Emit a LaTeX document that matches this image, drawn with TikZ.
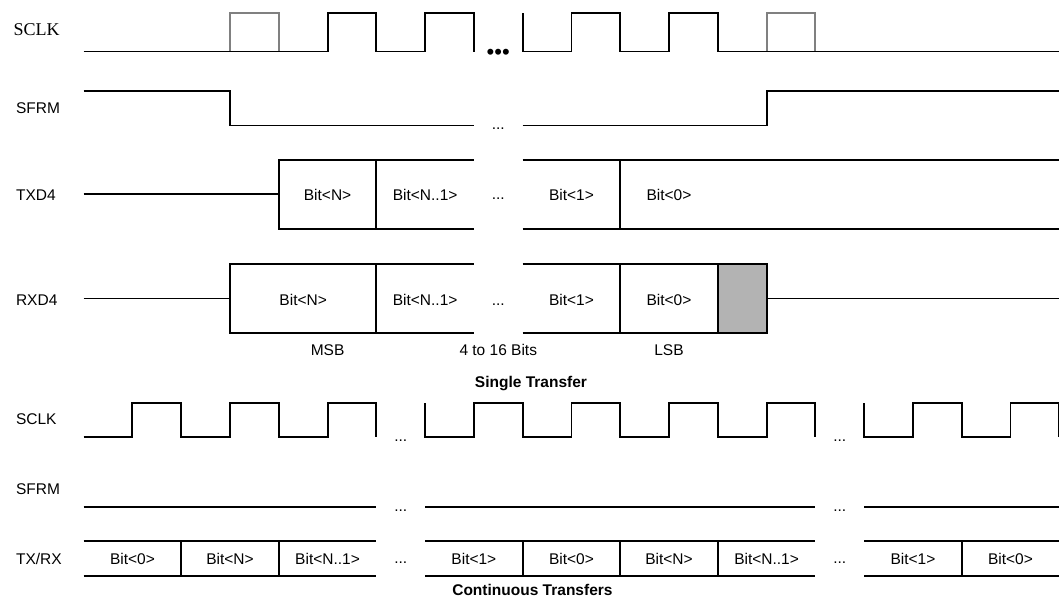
\documentclass[tikz,border=0pt]{standalone}
\usepackage{fontspec}
\setmainfont{Liberation Sans}
\newfontfamily\serifface{Liberation Serif}
\definecolor{PulseGray}{RGB}{128,128,128}
\definecolor{HoldGray}{RGB}{179,179,179}
\tikzset{
  wave/.style={line width=1.9pt,draw=black},
  ghostwave/.style={line width=1.9pt,draw=PulseGray},
  holdcell/.style={line width=1.9pt,draw=black,fill=HoldGray},
  siglabel/.style={anchor=base west,inner sep=0pt,font=\fontsize{15.5}{18}\selectfont},
  bitlabel/.style={anchor=base,inner sep=0pt,font=\fontsize{15.5}{18}\selectfont},
  titlelabel/.style={anchor=base,inner sep=0pt,font=\fontsize{15.5}{18}\selectfont\bfseries}
}

\begin{document}
\begin{tikzpicture}[x=48.78pt,y=-1pt]
  \useasboundingbox (-4.715,0) rectangle (16.995,598);
  % single transfer: signal names
  \node[siglabel,font=\fontsize{18}{20}\serifface] (sclkA) at (-4.44,35) {SCLK};
  \node[siglabel] (sfrmA) at (-4.39,113) {SFRM};
  \node[siglabel] (txdA) at (-4.39,200) {TXD4};
  \node[siglabel] (rxdA) at (-4.39,305) {RXD4};
  % SCLK
  \draw[ghostwave] (0,51.5) -- (0,13) -- (1,13) -- (1,51.5);
  \draw[ghostwave] (11,51.5) -- (11,13) -- (12,13) -- (12,51.5);
  \draw[wave] (-3,51.5) -- (2,51.5) -- (2,13) -- (3,13) -- (3,51.5) -- (4,51.5)
    -- (4,13) -- (5,13) -- (5,51.5);
  \draw[wave] (6,13) -- (6,51.5) -- (7,51.5) -- (7,13) -- (8,13) -- (8,51.5)
    -- (9,51.5) -- (9,13) -- (10,13) -- (10,51.5) -- (17,51.5);
  \node[inner sep=0pt,font=\fontsize{22}{24}\selectfont] (sclkGap) at (5.5,54) {•••};
  % SFRM
  \draw[wave] (-3,90.7) -- (0,90.7) -- (0,125.5) -- (5,125.5);
  \draw[wave] (6,125.5) -- (11,125.5) -- (11,90.7) -- (17,90.7);
  \node[bitlabel] (sfrmGap) at (5.5,129) {...};
  % TXD4
  \draw[wave] (-3,194) -- (1,194);
  \draw[wave] (5,160) -- (1,160) -- (1,229) -- (5,229);
  \draw[wave] (3,160) -- (3,229);
  \draw[wave] (6,160) -- (17,160);
  \draw[wave] (6,229) -- (17,229);
  \draw[wave] (8,160) -- (8,229);
  \node[bitlabel] (txN) at (2,200) {Bit<N>};
  \node[bitlabel] (txNm) at (4,200) {Bit<N..1>};
  \node[bitlabel] (txGap) at (5.5,199) {...};
  \node[bitlabel] (txOne) at (7,200) {Bit<1>};
  \node[bitlabel] (txZero) at (9,200) {Bit<0>};
  % RXD4
  \draw[wave] (-3,298.5) -- (0,298.5);
  \draw[wave] (5,264) -- (0,264) -- (0,333) -- (5,333);
  \draw[wave] (3,264) -- (3,333);
  \draw[holdcell] (10,264) rectangle (11,333);
  \draw[wave] (6,264) -- (11,264);
  \draw[wave] (6,333) -- (11,333);
  \draw[wave] (8,264) -- (8,333);
  \draw[wave] (11,298.5) -- (17,298.5);
  \node[bitlabel] (rxN) at (1.5,305) {Bit<N>};
  \node[bitlabel] (rxNm) at (4,305) {Bit<N..1>};
  \node[bitlabel] (rxGap) at (5.5,305) {...};
  \node[bitlabel] (rxOne) at (7,305) {Bit<1>};
  \node[bitlabel] (rxZero) at (9,305) {Bit<0>};
  \node[bitlabel] (msb) at (2,355) {MSB};
  \node[bitlabel] (width) at (5.5,355) {4 to 16 Bits};
  \node[bitlabel] (lsb) at (9,355) {LSB};
  \node[titlelabel] (single) at (6.17,387) {Single Transfer};

  % continuous transfers: signal names
  \node[siglabel] (sclkB) at (-4.39,424.3) {SCLK};
  \node[siglabel] (sfrmB) at (-4.39,494) {SFRM};
  \node[siglabel] (txrxB) at (-4.39,564) {TX/RX};
  % SCLK
  \draw[wave] (-3,437) -- (-2,437) -- (-2,403) -- (-1,403) -- (-1,437) -- (0,437)
    -- (0,403) -- (1,403) -- (1,437) -- (2,437) -- (2,403) -- (3,403) -- (3,437);
  \draw[wave] (4,403) -- (4,437) -- (5,437) -- (5,403) -- (6,403) -- (6,437)
    -- (7,437) -- (7,403) -- (8,403) -- (8,437) -- (9,437) -- (9,403) -- (10,403)
    -- (10,437) -- (11,437) -- (11,403) -- (12,403) -- (12,437);
  \draw[wave] (13,403) -- (13,437) -- (14,437) -- (14,403) -- (15,403) -- (15,437)
    -- (16,437) -- (16,403) -- (17,403) -- (17,437);
  \node[bitlabel] (clkGapA) at (3.5,441) {...};
  \node[bitlabel] (clkGapB) at (12.5,441) {...};
  % SFRM
  \draw[wave] (-3,507) -- (3,507);
  \draw[wave] (4,507) -- (12,507);
  \draw[wave] (13,507) -- (17,507);
  \node[bitlabel] (frmGapA) at (3.5,511) {...};
  \node[bitlabel] (frmGapB) at (12.5,511) {...};
  % TX/RX
  \draw[wave] (-3,541) -- (3,541);
  \draw[wave] (-3,576) -- (3,576);
  \draw[wave] (-1,541) -- (-1,576);
  \draw[wave] (1,541) -- (1,576);
  \draw[wave] (4,541) -- (12,541);
  \draw[wave] (4,576) -- (12,576);
  \draw[wave] (6,541) -- (6,576);
  \draw[wave] (8,541) -- (8,576);
  \draw[wave] (10,541) -- (10,576);
  \draw[wave] (13,541) -- (17,541);
  \draw[wave] (13,576) -- (17,576);
  \draw[wave] (15,541) -- (15,576);
  \node[bitlabel] (cZeroA) at (-2,564) {Bit<0>};
  \node[bitlabel] (cNA) at (0,564) {Bit<N>};
  \node[bitlabel] (cNmA) at (2,564) {Bit<N..1>};
  \node[bitlabel] (cGapA) at (3.5,563) {...};
  \node[bitlabel] (cOneA) at (5,564) {Bit<1>};
  \node[bitlabel] (cZeroB) at (7,564) {Bit<0>};
  \node[bitlabel] (cNB) at (9,564) {Bit<N>};
  \node[bitlabel] (cNmB) at (11,564) {Bit<N..1>};
  \node[bitlabel] (cGapB) at (12.5,563) {...};
  \node[bitlabel] (cOneB) at (14,564) {Bit<1>};
  \node[bitlabel] (cZeroC) at (16,564) {Bit<0>};
  \node[titlelabel] (continuous) at (6.2,595.5) {Continuous Transfers};
\end{tikzpicture}
\end{document}
